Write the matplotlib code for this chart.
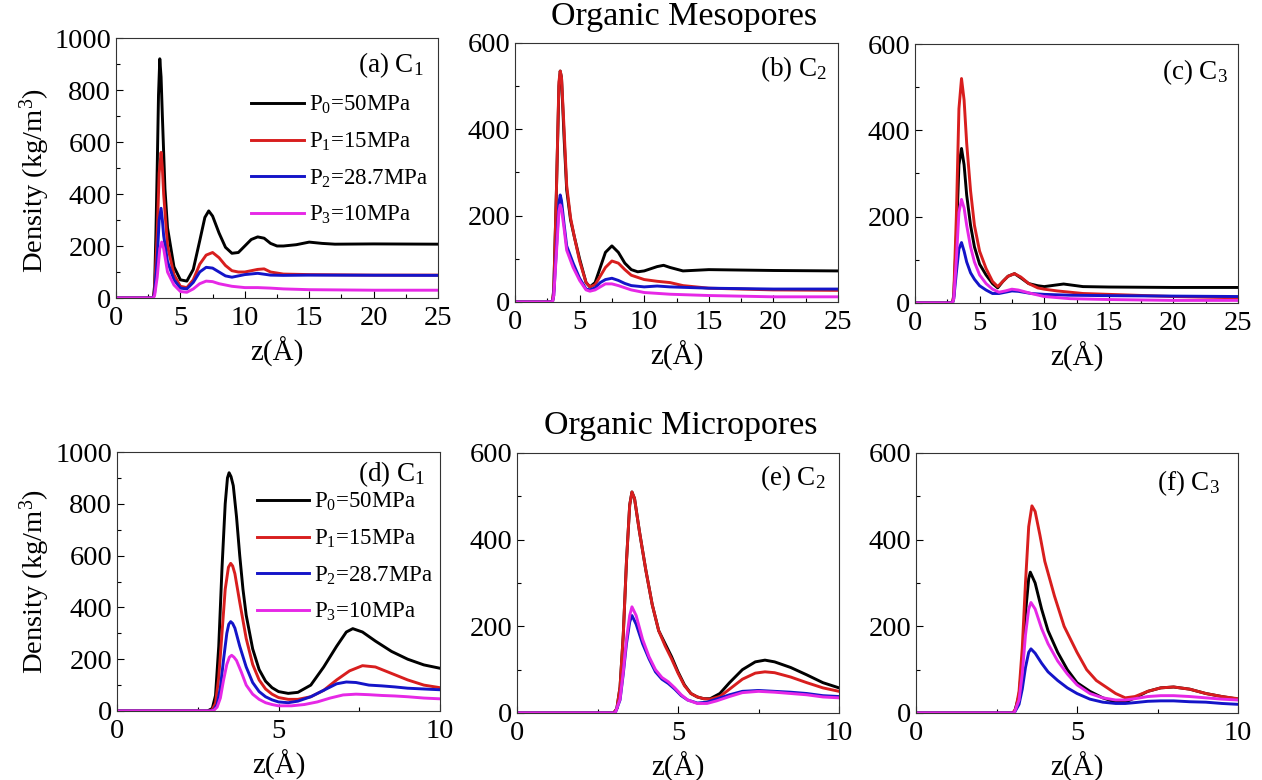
import matplotlib
matplotlib.use('Agg')
import matplotlib.pyplot as plt
from matplotlib.ticker import MultipleLocator

plt.rcParams['font.family'] = ['Liberation Serif', 'DejaVu Serif']
plt.rcParams['mathtext.fontset'] = 'custom'
plt.rcParams['mathtext.rm'] = 'Liberation Serif'
plt.rcParams['mathtext.it'] = 'Liberation Serif:italic'

# --- data: (z in Å, density in kg/m3) ---
# (a) Organic mesopores, C1
meso_c1_p0 = [(0, 0), (2.9, 0), (3.0, 50), (3.1, 250), (3.2, 500), (3.3, 780), (3.4, 920), (3.5, 850),
              (3.6, 700), (3.8, 420), (4.0, 270), (4.5, 120), (5.0, 70), (5.5, 65), (6.0, 110), (6.5, 220),
              (6.9, 310), (7.2, 335), (7.5, 315), (8.0, 250), (8.5, 195), (9.0, 172), (9.5, 175), (10, 200),
              (10.5, 225), (11, 235), (11.5, 230), (12, 210), (12.5, 200), (13, 200), (14, 205), (15, 215),
              (16, 210), (17, 207), (20, 208), (25, 207)]
meso_c1_p1 = [(0, 0), (2.9, 0), (3.0, 30), (3.2, 250), (3.35, 480), (3.5, 560), (3.6, 500), (3.7, 400),
              (4.0, 200), (4.5, 90), (5.0, 45), (5.5, 40), (6.0, 70), (6.5, 130), (7.0, 165), (7.5, 175),
              (8.0, 155), (8.5, 125), (9.0, 105), (9.5, 100), (10, 100), (11, 110), (11.5, 112), (12, 100),
              (13, 92), (15, 90), (20, 88), (25, 88)]
meso_c1_p2 = [(0, 0), (2.9, 0), (3.0, 20), (3.2, 150), (3.35, 300), (3.5, 345), (3.6, 300), (3.7, 240),
              (4.0, 140), (4.5, 70), (5.0, 38), (5.5, 35), (6.0, 60), (6.5, 100), (7.0, 118), (7.5, 115),
              (8.0, 100), (8.5, 85), (9.0, 80), (9.5, 85), (10, 90), (11, 95), (12, 88), (13, 87), (15, 88),
              (25, 87)]
meso_c1_p3 = [(0, 0), (2.9, 0), (3.0, 10), (3.2, 80), (3.4, 190), (3.55, 215), (3.7, 190), (3.8, 160),
              (4.0, 100), (4.5, 50), (5.0, 25), (5.5, 22), (6.0, 35), (6.5, 55), (7.0, 65), (7.5, 63),
              (8.0, 55), (9.0, 45), (10, 40), (11, 40), (12, 38), (13, 35), (15, 32), (20, 30), (25, 30)]

# (b) Organic mesopores, C2
meso_c2_p0 = [(0, 0), (2.9, 0), (3.0, 30), (3.2, 250), (3.4, 500), (3.5, 535), (3.6, 520), (3.8, 380),
              (4.0, 260), (4.3, 190), (4.6, 150), (5.0, 100), (5.5, 45), (5.8, 35), (6.2, 45), (6.6, 80),
              (7.0, 115), (7.5, 130), (8.0, 115), (8.5, 90), (9.0, 75), (9.5, 70), (10, 72), (11, 82),
              (11.5, 85), (12, 80), (13, 72), (15, 75), (20, 73), (25, 72)]
meso_c2_p1 = [(0, 0), (2.9, 0), (3.0, 25), (3.2, 250), (3.4, 510), (3.5, 535), (3.6, 520), (3.8, 400),
              (4.0, 270), (4.3, 195), (4.6, 150), (5.0, 95), (5.5, 45), (5.8, 35), (6.2, 40), (6.6, 60),
              (7.0, 80), (7.5, 95), (8.0, 90), (8.5, 75), (9.0, 62), (10, 52), (11, 48), (12, 45),
              (13, 38), (15, 32), (20, 28), (25, 27)]
meso_c2_p2 = [(0, 0), (2.9, 0), (3.0, 15), (3.2, 120), (3.4, 230), (3.5, 248), (3.6, 235), (3.8, 180),
              (4.0, 130), (4.5, 90), (5.0, 55), (5.5, 30), (5.8, 28), (6.2, 33), (6.6, 45), (7.0, 52),
              (7.5, 55), (8.0, 50), (8.5, 43), (9.0, 38), (10, 35), (11, 37), (12, 35), (15, 32),
              (20, 30), (25, 30)]
meso_c2_p3 = [(0, 0), (2.9, 0), (3.0, 15), (3.2, 110), (3.4, 210), (3.5, 225), (3.6, 215), (3.8, 170),
              (4.0, 120), (4.5, 80), (5.0, 50), (5.5, 28), (5.8, 25), (6.2, 28), (6.6, 35), (7.0, 42),
              (7.5, 42), (8.0, 38), (9.0, 28), (10, 22), (12, 18), (15, 15), (20, 12), (25, 12)]

# (c) Organic mesopores, C3
meso_c3_p0 = [(0, 0), (2.9, 0), (3.0, 15), (3.2, 150), (3.4, 320), (3.6, 358), (3.8, 320), (4.0, 250),
              (4.3, 180), (4.6, 130), (5.0, 90), (5.5, 65), (6.0, 45), (6.4, 35), (6.8, 50), (7.2, 62),
              (7.7, 68), (8.2, 58), (8.8, 45), (9.5, 40), (10, 38), (11, 42), (11.5, 44), (12, 42),
              (13, 38), (15, 37), (20, 36), (25, 36)]
meso_c3_p1 = [(0, 0), (2.9, 0), (3.0, 20), (3.2, 200), (3.4, 450), (3.6, 520), (3.8, 470), (4.0, 370),
              (4.3, 260), (4.6, 180), (5.0, 120), (5.5, 80), (6.0, 50), (6.4, 38), (6.8, 50), (7.2, 62),
              (7.7, 68), (8.2, 60), (8.8, 45), (9.5, 35), (10, 32), (11, 28), (12, 25), (13, 22),
              (15, 20), (20, 15), (25, 12)]
meso_c3_p2 = [(0, 0), (2.9, 0), (3.0, 10), (3.2, 70), (3.4, 125), (3.6, 140), (3.8, 120), (4.0, 95),
              (4.3, 70), (4.6, 55), (5.0, 40), (5.5, 30), (6.0, 22), (6.5, 22), (7.0, 25), (7.5, 28),
              (8.0, 27), (9.0, 22), (10, 20), (12, 18), (15, 17), (20, 16), (25, 15)]
meso_c3_p3 = [(0, 0), (2.9, 0), (3.0, 10), (3.2, 100), (3.4, 210), (3.6, 240), (3.8, 220), (4.0, 180),
              (4.3, 130), (4.6, 95), (5.0, 65), (5.5, 45), (6.0, 32), (6.5, 25), (7.0, 28), (7.5, 32),
              (8.0, 30), (9.0, 22), (10, 15), (12, 10), (15, 8), (20, 6), (25, 6)]

# (d) Organic micropores, C1
micro_c1_p0 = [(0, 0), (2.8, 0), (2.95, 10), (3.05, 60), (3.15, 250), (3.25, 550), (3.35, 800), (3.42, 900),
               (3.47, 920), (3.53, 905), (3.6, 870), (3.7, 750), (3.8, 600), (3.9, 470), (4.0, 370), (4.2, 240),
               (4.4, 160), (4.6, 115), (4.8, 90), (5.0, 75), (5.3, 68), (5.6, 72), (6.0, 100), (6.4, 170),
               (6.8, 250), (7.1, 305), (7.3, 318), (7.6, 305), (8.0, 270), (8.5, 230), (9.0, 200), (9.5, 178),
               (10, 165)]
micro_c1_p1 = [(0, 0), (2.85, 0), (2.95, 5), (3.05, 30), (3.15, 130), (3.25, 300), (3.35, 470), (3.45, 555),
               (3.52, 570), (3.58, 560), (3.65, 530), (3.8, 420), (4.0, 280), (4.2, 180), (4.4, 120), (4.6, 85),
               (4.8, 65), (5.0, 52), (5.3, 45), (5.6, 45), (6.0, 55), (6.4, 80), (6.8, 120), (7.2, 155),
               (7.6, 175), (8.0, 170), (8.5, 145), (9.0, 120), (9.5, 100), (10, 90)]
micro_c1_p2 = [(0, 0), (2.9, 0), (3.0, 5), (3.1, 25), (3.2, 90), (3.3, 200), (3.4, 300), (3.46, 335),
               (3.52, 345), (3.58, 338), (3.65, 320), (3.8, 250), (4.0, 170), (4.2, 110), (4.4, 75), (4.6, 55),
               (4.8, 43), (5.0, 35), (5.3, 32), (5.6, 38), (6.0, 55), (6.4, 80), (6.8, 105), (7.1, 112),
               (7.4, 110), (7.8, 100), (8.2, 97), (8.6, 93), (9.0, 88), (9.5, 85), (10, 82)]
micro_c1_p3 = [(0, 0), (2.9, 0), (3.0, 3), (3.1, 15), (3.2, 50), (3.3, 120), (3.4, 180), (3.48, 208),
               (3.55, 215), (3.62, 208), (3.7, 195), (3.85, 150), (4.0, 100), (4.2, 65), (4.4, 45), (4.6, 32),
               (4.8, 25), (5.0, 20), (5.4, 20), (5.8, 25), (6.2, 35), (6.6, 50), (7.0, 62), (7.4, 65),
               (7.8, 63), (8.2, 60), (8.6, 58), (9.0, 55), (9.5, 50), (10, 47)]

# (e) Organic micropores, C2
micro_c2_p0 = [(0, 0), (3.0, 0), (3.1, 10), (3.2, 60), (3.3, 180), (3.4, 350), (3.5, 480), (3.57, 510),
               (3.65, 495), (3.8, 420), (4.0, 330), (4.2, 250), (4.4, 190), (4.6, 160), (4.8, 130), (5.0, 95),
               (5.2, 65), (5.4, 45), (5.6, 37), (5.8, 33), (6.0, 33), (6.3, 45), (6.6, 70), (7.0, 100),
               (7.4, 118), (7.7, 122), (8.0, 118), (8.5, 105), (9.0, 88), (9.5, 70), (10, 58)]
micro_c2_p1 = [(0, 0), (3.0, 0), (3.1, 10), (3.2, 60), (3.3, 180), (3.4, 350), (3.5, 480), (3.57, 510),
               (3.65, 495), (3.8, 420), (4.0, 330), (4.2, 250), (4.4, 190), (4.6, 155), (4.8, 125), (5.0, 92),
               (5.2, 63), (5.4, 45), (5.6, 37), (5.8, 33), (6.0, 32), (6.3, 38), (6.6, 55), (7.0, 78),
               (7.4, 92), (7.7, 95), (8.0, 93), (8.5, 83), (9.0, 70), (9.5, 58), (10, 50)]
micro_c2_p2 = [(0, 0), (3.05, 0), (3.2, 30), (3.3, 90), (3.4, 160), (3.5, 210), (3.57, 225), (3.7, 205),
               (3.9, 160), (4.1, 125), (4.3, 95), (4.5, 78), (4.7, 68), (4.9, 55), (5.1, 40), (5.3, 30),
               (5.6, 23), (5.9, 25), (6.2, 32), (6.6, 42), (7.0, 50), (7.5, 52), (8.0, 50), (8.5, 48),
               (9.0, 45), (9.5, 40), (10, 38)]
micro_c2_p3 = [(0, 0), (3.05, 0), (3.2, 32), (3.3, 95), (3.4, 170), (3.5, 225), (3.57, 245), (3.7, 225),
               (3.9, 170), (4.1, 130), (4.3, 100), (4.5, 82), (4.7, 72), (4.9, 58), (5.1, 42), (5.3, 30),
               (5.6, 22), (5.9, 22), (6.2, 28), (6.6, 38), (7.0, 47), (7.5, 50), (8.0, 48), (8.5, 45),
               (9.0, 42), (9.5, 37), (10, 35)]

# (f) Organic micropores, C3
micro_c3_p0 = [(0, 0), (3.05, 0), (3.2, 40), (3.3, 120), (3.4, 230), (3.5, 310), (3.55, 325), (3.7, 300),
               (3.9, 240), (4.1, 190), (4.4, 140), (4.7, 100), (5.0, 70), (5.4, 50), (5.8, 35), (6.2, 25),
               (6.5, 25), (6.8, 35), (7.2, 50), (7.6, 58), (8.0, 60), (8.5, 55), (9.0, 45), (9.5, 38), (10, 32)]
micro_c3_p1 = [(0, 0), (3.0, 0), (3.1, 10), (3.2, 50), (3.3, 150), (3.4, 300), (3.5, 430), (3.6, 478),
               (3.7, 465), (3.85, 410), (4.0, 350), (4.3, 270), (4.6, 200), (5.0, 140), (5.3, 100), (5.6, 75),
               (5.9, 60), (6.2, 45), (6.5, 35), (6.8, 38), (7.2, 50), (7.6, 58), (8.0, 60), (8.5, 55),
               (9.0, 45), (9.5, 38), (10, 33)]
micro_c3_p2 = [(0, 0), (3.05, 0), (3.2, 20), (3.3, 55), (3.4, 105), (3.5, 140), (3.57, 148), (3.7, 138),
               (3.9, 115), (4.1, 95), (4.4, 75), (4.7, 58), (5.0, 45), (5.4, 32), (5.8, 25), (6.2, 22),
               (6.5, 22), (6.8, 24), (7.2, 27), (7.6, 28), (8.0, 28), (8.5, 26), (9.0, 25), (9.5, 22), (10, 20)]
micro_c3_p3 = [(0, 0), (3.05, 0), (3.2, 30), (3.3, 90), (3.4, 180), (3.5, 240), (3.57, 255), (3.7, 240),
               (3.9, 195), (4.1, 160), (4.4, 120), (4.7, 90), (5.0, 65), (5.4, 45), (5.8, 35), (6.2, 30),
               (6.5, 30), (6.8, 33), (7.2, 38), (7.6, 40), (8.0, 40), (8.5, 38), (9.0, 35), (9.5, 32), (10, 30)]

labels = [r'P$_0$=50MPa', r'P$_1$=15MPa', r'P$_2$=28.7MPa', r'P$_3$=10MPa']
colors = ['#000000', '#d81e1e', '#1414c8', '#e628e6']

# panel: label, curves, xmax, ymax, axes rect in px (left, top, width, height),
#        label pos (x, y) in axes fraction, legend anchor or None, ylabel y
W, H = 1262, 780
panels = [
    ('(a) C$_1$', [meso_c1_p0, meso_c1_p1, meso_c1_p2, meso_c1_p3], 25, 1000, (116, 38, 322, 260),
     (0.955, 0.895), (0.42, 0.785), 0.45),
    ('(b) C$_2$', [meso_c2_p0, meso_c2_p1, meso_c2_p2, meso_c2_p3], 25, 600, (515, 43, 323, 259),
     (0.966, 0.9), None, None),
    ('(c) C$_3$', [meso_c3_p0, meso_c3_p1, meso_c3_p2, meso_c3_p3], 25, 600, (915, 44, 323, 259),
     (0.97, 0.89), None, None),
    ('(d) C$_1$', [micro_c1_p0, micro_c1_p1, micro_c1_p2, micro_c1_p3], 10, 1000, (117, 452, 323, 259),
     (0.955, 0.915), (0.432, 0.85), 0.5),
    ('(e) C$_2$', [micro_c2_p0, micro_c2_p1, micro_c2_p2, micro_c2_p3], 10, 600, (517, 453, 322, 260),
     (0.96, 0.905), None, None),
    ('(f) C$_3$', [micro_c3_p0, micro_c3_p1, micro_c3_p2, micro_c3_p3], 10, 600, (916, 453, 322, 260),
     (0.945, 0.885), None, None),
]

fig = plt.figure(figsize=(W / 100, H / 100), dpi=100)

for name, curves, xmax, ymax, rect, tpos, leg_at, ylab_y in panels:
    l, t, w, h = rect
    ax = fig.add_axes([l / W, 1 - (t + h) / H, w / W, h / H])
    for curve, c, lab in zip(curves, colors, labels):
        zs = [p[0] for p in curve]
        rho = [p[1] for p in curve]
        ax.plot(zs, rho, color=c, lw=2.1, label=lab, solid_joinstyle='round')
    ax.set_xlim(0, xmax)
    ax.set_ylim(0, ymax)
    ax.xaxis.set_major_locator(MultipleLocator(5))
    ax.xaxis.set_minor_locator(MultipleLocator(2.5))
    ax.yaxis.set_major_locator(MultipleLocator(200))
    ax.yaxis.set_minor_locator(MultipleLocator(100))
    ax.tick_params(which='both', direction='in', top=False, right=False, labelsize=20.5)
    ax.tick_params(axis='x', which='major', pad=6)
    ax.tick_params(which='major', length=5, width=0.8)
    ax.tick_params(which='minor', length=3, width=0.8)
    for s in ax.spines.values():
        s.set_linewidth(0.8)
        s.set_color('#333333')
    ax.set_xlabel('z(Å)', fontsize=21, labelpad=4)
    if ylab_y is not None:
        ax.set_ylabel('Density (kg/m$^3$)', fontsize=20.5)
        ax.yaxis.set_label_coords(-0.20, ylab_y)
    ax.text(tpos[0], tpos[1], name, transform=ax.transAxes, ha='right', va='center', fontsize=19.5)
    if leg_at is not None:
        ax.legend(loc='upper left', bbox_to_anchor=leg_at, frameon=False, fontsize=16.5,
                  handlelength=2.3, handletextpad=0.2, labelspacing=0.63, borderpad=0, borderaxespad=0)

fig.text(684 / W, 1 - 17 / H, 'Organic Mesopores', ha='center', va='center', fontsize=24.5)
fig.text(681 / W, 1 - 426 / H, 'Organic Micropores', ha='center', va='center', fontsize=24.5)

fig.savefig('out.png', dpi=100)
